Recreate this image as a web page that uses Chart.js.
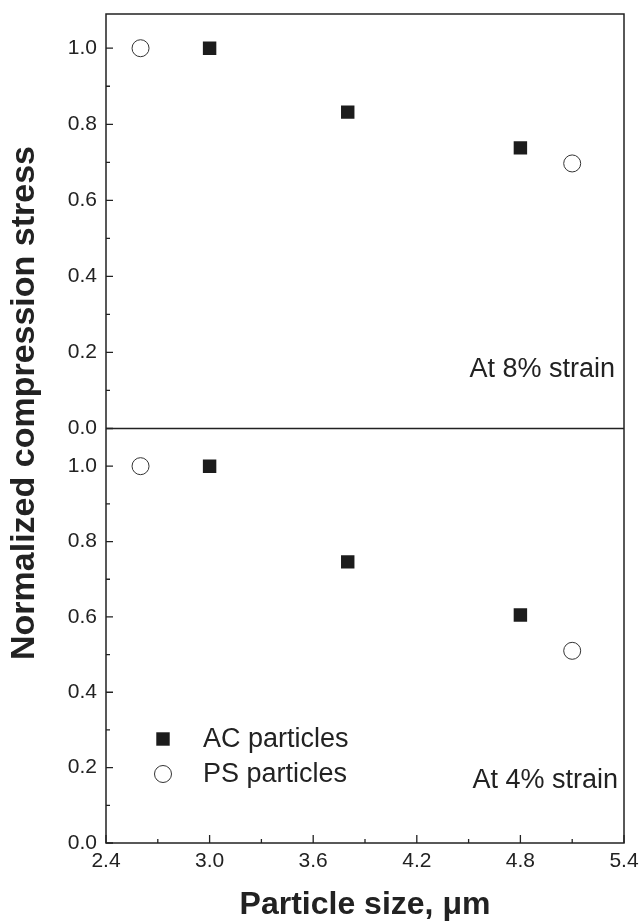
<!DOCTYPE html>
<html>
<head>
<meta charset="utf-8">
<script src="https://cdn.jsdelivr.net/npm/chart.js@4.4.1/dist/chart.umd.min.js"></script>
<style>
  html, body { margin: 0; padding: 0; background: #fff; }
  #wrap { width: 642px; height: 921px; position: relative; }
</style>
</head>
<body>
<div id="wrap"><canvas id="stressChart" width="642" height="921"></canvas></div>
<script>
const xTicks = [2.4, 3.0, 3.6, 4.2, 4.8, 5.4];
const xMinorTicks = [2.7, 3.3, 3.9, 4.5, 5.1];
const yTicks = [0, 0.2, 0.4, 0.6, 0.8, 1.0];
const yMinorTicks = [0.1, 0.3, 0.5, 0.7, 0.9];

// particle sizes (um)
const acSize = [3.0, 3.8, 4.8];
const psSize = [2.6, 5.1];

// normalized compression stress, 8% strain (top) and 4% strain (bottom)
const acStress8 = [1.0, 0.832, 0.738];
const psStress8 = [1.0, 0.697];
const acStress4 = [1.0, 0.746, 0.605];
const psStress4 = [1.0, 0.51];

const seriesNames = ['AC particles', 'PS particles'];
const panelLabels = ['At 8% strain', 'At 4% strain'];

const FONT = '"Liberation Sans", Arial, Helvetica, sans-serif';
const INK = '#222';

const toPoints = (xs, ys) => xs.map((x, i) => ({ x: x, y: ys[i] }));

const acStyle = {
    pointStyle: 'rect',
    pointRadius: 9.5,
    backgroundColor: '#1c1c1c',
    borderColor: '#1c1c1c',
    borderWidth: 0
};
const psStyle = {
    pointStyle: 'circle',
    pointRadius: 8.5,
    backgroundColor: '#fff',
    borderColor: '#333',
    borderWidth: 1
};

function yAxis(max) {
    return {
        type: 'linear',
        position: 'left',
        stack: 'panels',
        stackWeight: 1,
        min: 0,
        max: max,
        grid: { display: false, drawTicks: false },
        border: { display: false },
        ticks: {
            autoSkip: false,
            padding: 9,
            color: INK,
            font: { family: FONT, size: 21 },
            callback: v => v.toFixed(1)
        },
        afterBuildTicks: s => { s.ticks = yTicks.map(v => ({ value: v })); },
        afterFit: s => {
            s.width = 106;
            s.paddingTop = 0;
            s.paddingBottom = 0;
        }
    };
}

// frame, inward ticks, panel labels, legend and shared y title
const decorPlugin = {
    id: 'decor',
    afterDraw(chart) {
        const { ctx, chartArea: a, scales } = chart;
        const yTop = scales.yTop, yBottom = scales.yBottom, x = scales.x;
        ctx.save();
        ctx.strokeStyle = INK;
        ctx.lineWidth = 1.5;
        ctx.strokeRect(a.left, a.top, a.right - a.left, a.bottom - a.top);

        ctx.beginPath();
        ctx.moveTo(a.left, yTop.bottom);
        ctx.lineTo(a.right, yTop.bottom);
        ctx.stroke();

        ctx.lineWidth = 1.3;
        ctx.beginPath();
        [yTop, yBottom].forEach(s => {
            yTicks.forEach(v => {
                const p = s.getPixelForValue(v);
                ctx.moveTo(a.left, p); ctx.lineTo(a.left + 7, p);
            });
            yMinorTicks.forEach(v => {
                const p = s.getPixelForValue(v);
                ctx.moveTo(a.left, p); ctx.lineTo(a.left + 4, p);
            });
        });
        xTicks.forEach(v => {
            const p = x.getPixelForValue(v);
            ctx.moveTo(p, a.bottom); ctx.lineTo(p, a.bottom - 8);
        });
        xMinorTicks.forEach(v => {
            const p = x.getPixelForValue(v);
            ctx.moveTo(p, a.bottom); ctx.lineTo(p, a.bottom - 4);
        });
        ctx.stroke();

        // panel labels
        ctx.fillStyle = INK;
        ctx.font = '27px ' + FONT;
        ctx.textAlign = 'right';
        ctx.textBaseline = 'alphabetic';
        ctx.fillText(panelLabels[0], a.right - 9, yTop.bottom - 52);
        ctx.fillText(panelLabels[1], a.right - 6, yBottom.bottom - 55);

        // legend
        const styles = [acStyle, psStyle];
        ctx.textAlign = 'left';
        ctx.textBaseline = 'middle';
        seriesNames.forEach((name, i) => {
            const ly = yBottom.bottom - 104 + i * 35;
            const st = styles[i];
            ctx.fillStyle = st.backgroundColor;
            ctx.strokeStyle = st.borderColor;
            ctx.lineWidth = st.borderWidth;
            Chart.helpers.drawPoint(ctx, {
                pointStyle: st.pointStyle,
                radius: st.pointRadius,
                rotation: 0,
                borderWidth: st.borderWidth
            }, a.left + 57, ly);
            ctx.fillStyle = INK;
            ctx.fillText(name, a.left + 97, ly + 1);
        });

        // shared y title
        ctx.translate(25, 403);
        ctx.rotate(-Math.PI / 2);
        ctx.textAlign = 'center';
        ctx.textBaseline = 'middle';
        ctx.font = 'bold 34px ' + FONT;
        ctx.fillText('Normalized compression stress', 0, 0);
        ctx.restore();
    }
};

const ctx = document.getElementById('stressChart').getContext('2d');
new Chart(ctx, {
    type: 'scatter',
    data: {
        datasets: [
            Object.assign({ label: seriesNames[0], data: toPoints(acSize, acStress8), yAxisID: 'yTop' }, acStyle),
            Object.assign({ label: seriesNames[1], data: toPoints(psSize, psStress8), yAxisID: 'yTop' }, psStyle),
            Object.assign({ label: seriesNames[0], data: toPoints(acSize, acStress4), yAxisID: 'yBottom' }, acStyle),
            Object.assign({ label: seriesNames[1], data: toPoints(psSize, psStress4), yAxisID: 'yBottom' }, psStyle)
        ]
    },
    options: {
        responsive: false,
        animation: false,
        layout: { padding: { top: 14, right: 18, bottom: 0, left: 0 } },
        plugins: {
            legend: { display: false },
            tooltip: { enabled: false }
        },
        scales: {
            x: {
                type: 'linear',
                position: 'bottom',
                min: 2.4,
                max: 5.4,
                grid: { display: false, drawTicks: false },
                border: { display: false },
                ticks: {
                    autoSkip: false,
                    maxRotation: 0,
                    padding: 6,
                    color: INK,
                    font: { family: FONT, size: 21 },
                    callback: v => v.toFixed(1)
                },
                title: {
                    display: true,
                    text: 'Particle size, \u03bcm',
                    color: INK,
                    font: { family: FONT, size: 32, weight: 'bold', lineHeight: 1 },
                    padding: { top: 0, bottom: 0 }
                },
                afterBuildTicks: s => { s.ticks = xTicks.map(v => ({ value: v })); },
                afterFit: s => {
                    s.height = 78;
                    s.paddingLeft = 0;
                    s.paddingRight = 0;
                }
            },
            yBottom: yAxis(1.1),
            yTop: yAxis(1.09)
        }
    },
    plugins: [decorPlugin]
});
</script>
</body>
</html>
